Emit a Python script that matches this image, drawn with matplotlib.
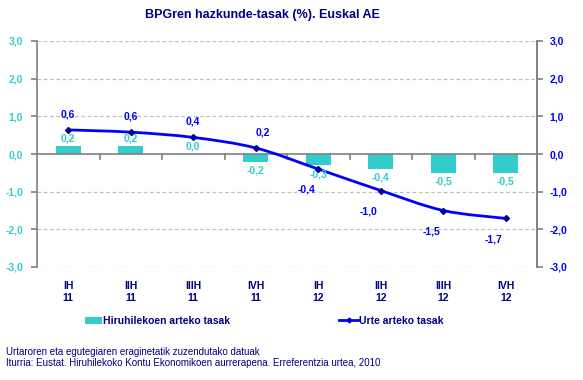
import numpy as np
import matplotlib.pyplot as plt
from matplotlib.path import Path
from matplotlib.patches import PathPatch
from matplotlib.lines import Line2D
from matplotlib.patches import Patch

# data
quarters = ["IH\n11", "IIH\n11", "IIIH\n11", "IVH\n11", "IH\n12", "IIH\n12", "IIIH\n12", "IVH\n12"]
quarterly = [0.2, 0.2, 0.0, -0.2, -0.3, -0.4, -0.5, -0.5]
annual = [0.64, 0.58, 0.44, 0.16, -0.40, -0.97, -1.50, -1.71]

navy = "#000080"
turq = "#33CCCC"
blue = "#0000FF"

plt.rcParams['font.family'] = ['Liberation Sans', 'DejaVu Sans']
fig = plt.figure(figsize=(5.83, 3.8), dpi=100)
ax = fig.add_axes([37/583, 1-267/380, 500/583, 226/380])

x = np.arange(len(quarters))
ax.bar(x, quarterly, width=0.4, color=turq, zorder=2)

# smooth line through the points (cubic bezier, catmull-rom style)
pts = np.column_stack([x, annual])
verts = [tuple(pts[0])]
codes = [Path.MOVETO]
for i in range(len(pts) - 1):
    p0 = pts[max(i-1, 0)]
    p1 = pts[i]
    p2 = pts[i+1]
    p3 = pts[min(i+2, len(pts)-1)]
    c1 = p1 + (p2 - p0) / 6
    c2 = p2 - (p3 - p1) / 6
    verts += [tuple(c1), tuple(c2), tuple(p2)]
    codes += [Path.CURVE4] * 3
ax.add_patch(PathPatch(Path(verts, codes), fill=False, edgecolor=blue, lw=2, zorder=3))
ax.plot(x, annual, ls="none", marker="D", ms=3, color="#000099", zorder=4)

# labels
for xi, v in zip(x, quarterly):
    txt = ("%.1f" % v).replace(".", ",")
    if v > 0:
        ax.text(xi, v + 0.07, txt, ha="center", va="bottom", color=turq, fontsize=7.5, fontweight="bold")
    elif v == 0:
        ax.text(xi, 0.07, txt, ha="center", va="bottom", color=turq, fontsize=7.5, fontweight="bold")
    else:
        ax.text(xi, v - 0.1, txt, ha="center", va="top", color=turq, fontsize=7.5, fontweight="bold")

for xi, v in zip(x, annual):
    txt = ("%.1f" % v).replace(".", ",")
    if v > 0:
        dx = 0.12 if xi == 3 else 0.0
        ax.text(xi + dx, v + 0.28, txt, ha="center", va="bottom", color=blue, fontsize=7.5, fontweight="bold")
    else:
        ax.text(xi - 0.19, v - 0.55, txt, ha="center", va="center", color=blue, fontsize=7.5, fontweight="bold")

ax.set_xlim(-0.5, len(quarters) - 0.5)
ax.set_ylim(-3, 3)
yt = np.arange(-3, 3.1, 1)
ax.set_yticks(yt)
ax.set_yticklabels([("%.1f" % t).replace(".", ",") for t in yt], color=turq, fontsize=7.5, fontweight="bold")
for t in yt:
    if t != 0:
        ax.axhline(t, color="#C0C0C0", lw=0.9, ls=(0, (3, 2)), zorder=1)
ax.axhline(0, color="#808080", lw=1.2, zorder=2.5)
# small ticks on the zero line between categories
for b in np.arange(0.5, len(quarters) - 1, 1):
    ax.plot([b, b], [0, -0.12], color="#808080", lw=1.2, zorder=2.5)

ax.set_xticks(x)
ax.set_xticklabels(quarters, color=navy, fontsize=7.5, fontweight="bold", linespacing=1.3)
ax.tick_params(axis="x", length=0, pad=10)
ax.tick_params(axis="y", length=4, color="#808080", width=1.2, pad=6)

for s in ["top", "bottom"]:
    ax.spines[s].set_visible(False)
for s in ["left", "right"]:
    ax.spines[s].set_color("#808080")
    ax.spines[s].set_linewidth(1.2)

ax2 = ax.twinx()
ax2.set_ylim(-3, 3)
ax2.set_yticks(yt)
ax2.set_yticklabels([("%.1f" % t).replace(".", ",") for t in yt], color=blue, fontsize=7.5, fontweight="bold")
ax2.tick_params(axis="y", length=4, color="#808080", width=1.2, pad=5)
for s in ["top", "bottom", "left"]:
    ax2.spines[s].set_visible(False)
ax2.spines["right"].set_color("#808080")
ax2.spines["right"].set_linewidth(1.2)

fig.text(262/583, 1 - 15/380, "BPGren hazkunde-tasak (%). Euskal AE", ha="center", va="center",
         color=navy, fontsize=9, fontweight="bold")

# legend
h1 = Patch(facecolor=turq, edgecolor="none")
h2 = Line2D([], [], color=blue, lw=2, marker="D", ms=2.5, markerfacecolor="#000099")
fig.legend([h1], ["Hiruhilekoen arteko tasak"], loc="center left", bbox_to_anchor=(76/583, 1-321/380),
           frameon=False, labelcolor=navy, handlelength=1.6, handleheight=0.6,
           handletextpad=0.1, prop={"weight": "bold", "size": 7.5})
fig.legend([h2], ["Urte arteko tasak"], loc="center left", bbox_to_anchor=(330/583, 1-321/380),
           frameon=False, labelcolor=navy, handlelength=1.8,
           handletextpad=0.1, prop={"weight": "bold", "size": 7.5})

fig.text(6/583, 1 - 352/380, "Urtaroren eta egutegiaren eraginetatik zuzendutako datuak",
         color=navy, fontsize=7, va="center")
fig.text(6/583, 1 - 363/380, "Iturria: Eustat. Hiruhilekoko Kontu Ekonomikoen aurrerapena. Erreferentzia urtea, 2010",
         color=navy, fontsize=7, va="center")

fig.savefig("out.png", dpi=100)
